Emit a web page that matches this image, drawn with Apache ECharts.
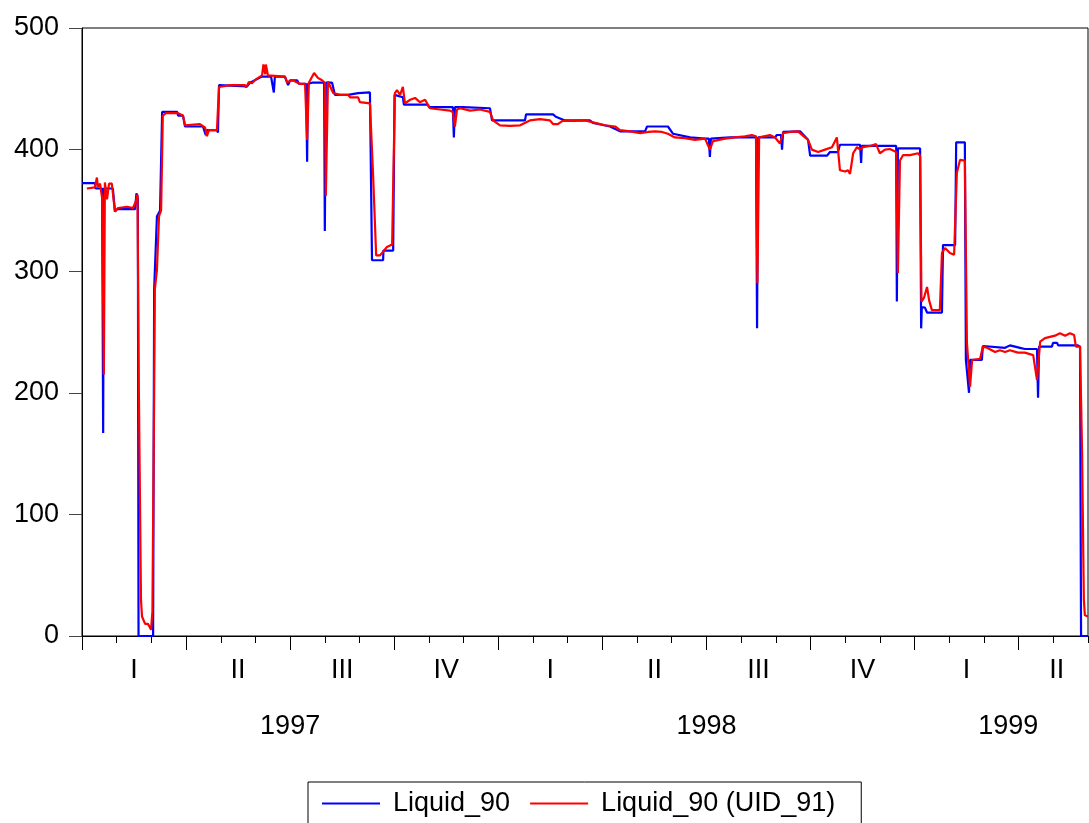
<!DOCTYPE html>
<html>
<head>
<meta charset="utf-8">
<title>Liquid_90</title>
<script src="https://cdn.jsdelivr.net/npm/echarts@6/dist/echarts.min.js"></script>
<style>
  html, body { margin: 0; padding: 0; background: #fff; }
  #chart { width: 1089px; height: 823px; }
</style>
</head>
<body>
<div id="chart"></div>
<script>
// Time is measured in months since the start of January 1997 (0 .. 29 = end of May 1999).
const quarterLabels = ['I', 'II', 'III', 'IV', 'I', 'II', 'III', 'IV', 'I', 'II'];
const yearLabels = ['1997', '1998', '1999'];
const yTicks = [0, 100, 200, 300, 400, 500];

// Liquid_90
const blueT = [0, 0.37, 0.39, 0.58, 0.61, 0.63, 0.89, 0.95, 1.01, 1.53, 1.57, 1.61, 1.63, 2.05, 2.08, 2.16, 2.25, 2.31,
  2.74, 2.77, 2.91, 2.97, 3.49, 3.52, 3.57, 3.60, 3.89, 3.92, 3.95, 4.76, 4.84, 5.19, 5.45, 5.53, 5.56, 5.85, 5.94, 6.00,
  6.20, 6.26, 6.46, 6.49, 6.51, 6.63, 6.98, 7.00, 7.03, 7.21, 7.29, 7.67, 7.70, 7.96, 7.99, 8.30, 8.36, 8.68, 8.69, 8.97,
  9.01, 9.25, 9.28, 9.97, 10.00, 10.69, 10.72, 10.75, 10.98, 11.01, 11.76, 11.82, 12.77, 12.80, 13.58, 13.66, 13.92, 14.64,
  14.73, 15.22, 15.51, 16.23, 16.29, 16.89, 17.04, 17.53, 17.96, 18.07, 18.10, 18.13, 18.68, 19.43, 19.46, 19.49, 19.98,
  20.03, 20.15, 20.18, 20.21, 20.70, 20.93, 20.99, 21.48, 21.56, 21.79, 21.85, 22.43, 22.46, 22.48, 23.47, 23.49, 23.52,
  24.16, 24.19, 24.21, 24.30, 24.36, 24.79, 24.82, 25.17, 25.20, 25.45, 25.48, 25.57, 25.60, 25.94, 25.97, 26.61, 26.75,
  27.04, 27.18, 27.53, 27.56, 27.59, 27.96, 27.99, 28.11, 28.14, 28.71, 28.77, 28.80, 29.00];
const blueV = [372.5, 372.5, 368, 368, 167, 368, 368, 349, 351, 351, 364, 360, 0, 0, 285, 345, 350, 431,
  431, 428, 428, 419, 419, 416, 412, 416, 416, 414, 453, 452, 455, 460, 460, 447, 460, 460, 453, 457,
  457, 454, 454, 390, 454, 455, 455, 333, 455, 455, 445, 445, 446.5, 446.5, 447, 447, 309, 309, 317, 317,
  445, 443, 437, 437, 435, 435, 410, 435, 435, 434, 434, 424, 424, 429, 429, 427, 424, 424,
  422, 419, 415, 415, 419, 419, 413, 410, 409, 409, 394, 409, 410, 410, 253, 410, 410,
  412, 412, 400, 414.5, 415, 408, 395, 395, 398, 398, 404, 404, 389, 403, 403, 275, 401,
  401, 253, 270.5, 270, 266, 266, 321.5, 321.5, 406, 406, 227, 200, 227, 227, 238.5, 237, 239,
  237, 236, 236, 196, 238, 238, 241, 241, 239, 239, 238, 0, 0];

// Liquid_90 (UID_91)
const redT = [0.14, 0.37, 0.43, 0.46, 0.52, 0.58, 0.63, 0.66, 0.72, 0.78, 0.86, 0.95, 1.04, 1.30, 1.47, 1.56, 1.60, 1.64,
  1.70, 1.73, 1.82, 1.90, 1.96, 1.99, 2.03, 2.08, 2.10, 2.16, 2.22, 2.28, 2.33, 2.42, 2.77, 2.91, 2.97, 3.40, 3.55, 3.60,
  3.66, 3.89, 3.95, 4.27, 4.70, 4.73, 4.81, 4.90, 5.02, 5.19, 5.23, 5.28, 5.30, 5.36, 5.85, 5.91, 6.08, 6.28, 6.43, 6.49,
  6.54, 6.69, 6.80, 6.92, 7.00, 7.03, 7.09, 7.24, 7.44, 7.67, 7.73, 7.96, 8.01, 8.30, 8.39, 8.48, 8.59, 8.68, 8.79, 8.94,
  8.98, 9.02, 9.08, 9.17, 9.25, 9.31, 9.46, 9.60, 9.74, 9.89, 10.03, 10.32, 10.61, 10.69, 10.75, 10.81, 10.90, 11.19,
  11.47, 11.76, 11.85, 12.05, 12.34, 12.63, 12.91, 13.20, 13.49, 13.58, 13.72, 13.84, 14.21, 14.50, 14.79, 15.08, 15.37,
  15.51, 15.80, 16.09, 16.32, 16.52, 16.72, 16.89, 17.09, 17.38, 17.67, 17.96, 18.10, 18.19, 18.54, 18.82, 19.11, 19.31,
  19.43, 19.47, 19.52, 19.83, 19.98, 20.12, 20.21, 20.41, 20.64, 20.84, 20.93, 21.04, 21.22, 21.42, 21.62, 21.76, 21.85,
  22.00, 22.08, 22.14, 22.23, 22.34, 22.43, 22.51, 22.72, 22.89, 23.00, 23.15, 23.29, 23.47, 23.52, 23.58, 23.67, 23.87,
  24.10, 24.16, 24.20, 24.27, 24.36, 24.42, 24.50, 24.73, 24.79, 24.88, 25.02, 25.14, 25.22, 25.31, 25.45, 25.51, 25.60,
  25.66, 25.89, 25.97, 26.09, 26.32, 26.46, 26.61, 26.75, 26.98, 27.18, 27.42, 27.47, 27.53, 27.62, 27.76, 28.05, 28.19,
  28.34, 28.48, 28.60, 28.65, 28.77, 28.83, 28.88, 28.91, 29.00];
const redV = [368, 369, 377, 369, 372, 360, 215, 373, 359, 372, 372, 349, 352, 353, 352, 358, 363, 200,
  30, 16, 10, 10, 7, 5, 20, 200, 285, 301, 345, 350, 428, 430, 430, 428, 420, 421, 418, 411,
  416, 416, 451.5, 453, 453, 451, 455.5, 454.5, 458, 461, 470, 462, 470, 461, 460, 455.5, 457, 454, 454, 408,
  455, 463, 459, 457, 455, 362, 456, 446.5, 445, 445, 443, 443, 439, 438, 380, 313, 313, 316, 320, 322,
  322, 446.5, 449, 445, 451.5, 438, 441, 442.5, 439, 441, 434, 433, 432, 431, 419, 433, 434, 432,
  433, 431, 424, 420, 419.5, 420, 424, 425, 424, 421, 421, 423.5, 423.5, 424, 422, 420, 419,
  416, 415, 413.5, 414.5, 415, 414.5, 413, 410, 409.5, 408, 409, 400, 407, 409, 410, 411, 412,
  411, 290, 410, 412, 410, 405, 413.5, 414.5, 415, 410, 408, 400, 398, 400, 402, 410, 383,
  382, 383, 380, 397, 402, 400, 402, 403, 404.5, 397, 400, 400.5, 398, 298.5, 391, 395.5, 395.5,
  397, 395, 275, 278, 287, 276, 268, 268, 315, 319, 315, 313.5, 381, 391.5, 391, 241, 205,
  227, 228, 238, 237, 233.5, 235, 233.5, 235, 233, 233, 231, 230, 210.5, 242, 245, 247, 249,
  247, 249, 247.5, 238, 238, 150, 30, 17, 16];

const pair = (t, v) => t.map((x, i) => [x, v[i]]);

const monthTicks = Array.from({ length: 30 }, (_, i) => i);
const quarterTicks = monthTicks.filter(m => m % 3 === 0);
const quarterCentres = [1.5, 4.5, 7.5, 10.5, 13.5, 16.5, 19.5, 22.5, 25.5, 28.1];
const yearCentres = [6, 18, 26.7];

const FONT = "'Liberation Sans', Arial, sans-serif";
const FONT_SIZE = 27;
const baseX = {
  type: 'value', gridIndex: 0, min: 0, max: 29, position: 'bottom',
  splitLine: { show: false }
};

const chart = echarts.init(document.getElementById('chart'), null, { renderer: 'canvas' });
chart.setOption({
  animation: false,
  backgroundColor: '#ffffff',
  grid: {
    left: 82, right: 1, top: 28, bottom: 187,
    show: true, borderColor: '#000', borderWidth: 1, backgroundColor: 'transparent'
  },
  xAxis: [
    Object.assign({}, baseX, {
      axisLine: { show: true, lineStyle: { color: '#000', width: 1 } },
      axisTick: { show: true, customValues: monthTicks, length: 7, lineStyle: { color: '#000', width: 1 } },
      axisLabel: { show: false }
    }),
    Object.assign({}, baseX, {
      axisLine: { show: false },
      axisTick: { show: true, customValues: quarterTicks, length: 14, lineStyle: { color: '#000', width: 1 } },
      axisLabel: {
        show: true, customValues: quarterCentres, margin: 21,
        fontFamily: FONT, fontSize: FONT_SIZE, color: '#000',
        formatter: v => quarterLabels[Math.floor(v / 3)]
      }
    }),
    Object.assign({}, baseX, {
      axisLine: { show: false },
      axisTick: { show: false },
      axisLabel: {
        show: true, customValues: yearCentres, margin: 77,
        fontFamily: FONT, fontSize: FONT_SIZE, color: '#000',
        formatter: v => yearLabels[Math.floor(v / 12)]
      }
    })
  ],
  yAxis: {
    type: 'value', min: 0, max: 500, interval: 100,
    axisLine: { show: true, lineStyle: { color: '#000', width: 1 } },
    axisTick: { show: true, length: 13, lineStyle: { color: '#444', width: 1 } },
    axisLabel: {
      margin: 23, fontFamily: FONT, fontSize: FONT_SIZE, color: '#000',
      customValues: yTicks
    },
    splitLine: { show: false }
  },
  legend: {
    left: 308, top: 782,
    padding: [8, 26, 20, 14],
    borderColor: '#000', borderWidth: 1,
    itemGap: 20, itemWidth: 58, itemHeight: 2, icon: 'rect',
    textStyle: { fontFamily: FONT, fontSize: FONT_SIZE, color: '#000', padding: [0, 0, 0, 8], lineHeight: 26 },
    data: ['Liquid_90', 'Liquid_90 (UID_91)']
  },
  series: [
    {
      name: 'Liquid_90', type: 'line', xAxisIndex: 0, yAxisIndex: 0,
      data: pair(blueT, blueV), showSymbol: false, symbol: 'none',
      itemStyle: { color: '#0000ff' },
      lineStyle: { color: '#0000ff', width: 2.2 }, z: 2
    },
    {
      name: 'Liquid_90 (UID_91)', type: 'line', xAxisIndex: 0, yAxisIndex: 0,
      data: pair(redT, redV), showSymbol: false, symbol: 'none',
      itemStyle: { color: '#ff0000' },
      lineStyle: { color: '#ff0000', width: 2.2 }, z: 3
    }
  ]
});
</script>
</body>
</html>
